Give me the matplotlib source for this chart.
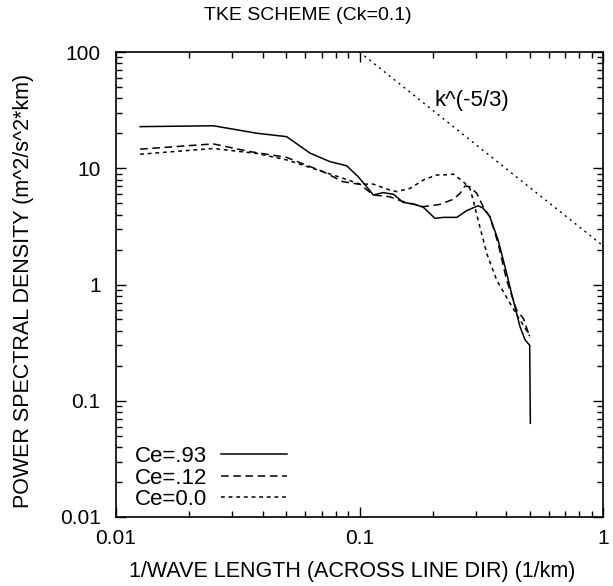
import matplotlib
matplotlib.use("Agg")
import matplotlib.pyplot as plt
from matplotlib.ticker import LogLocator, NullFormatter, FixedLocator, FixedFormatter

plt.rcParams['font.family'] = ['Liberation Sans', 'DejaVu Sans']

# Data
k_solid = [0.01256, 0.0251, 0.0379, 0.0502, 0.0626, 0.0756, 0.0886, 0.0988, 0.107, 0.114,
           0.125, 0.138, 0.151, 0.169, 0.183, 0.204, 0.221, 0.251, 0.275, 0.307, 0.322,
           0.343, 0.371, 0.402, 0.421, 0.442, 0.456, 0.479, 0.500, 0.503]
psd_solid = [22.8, 23.2, 20.0, 18.7, 13.5, 11.4, 10.5, 8.45, 6.93, 5.89,
             6.17, 5.97, 5.09, 4.89, 4.61, 3.71, 3.78, 3.78, 4.31, 4.76, 4.53,
             3.83, 2.41, 1.25, 0.84, 0.565, 0.434, 0.333, 0.30, 0.064]

k_dash = [0.01256, 0.0251, 0.0355, 0.0502, 0.0710, 0.0857, 0.1004, 0.114, 0.133, 0.151,
          0.183, 0.214, 0.243, 0.259, 0.271, 0.284, 0.303, 0.322, 0.343, 0.371, 0.402,
          0.442, 0.471, 0.501]
psd_dash = [14.6, 16.2, 13.9, 12.4, 9.33, 7.65, 7.27, 5.89, 5.69, 5.16,
            4.67, 4.89, 5.41, 6.09, 7.03, 6.93, 6.09, 4.67, 3.83, 2.26, 1.09,
            0.60, 0.51, 0.35]

k_dot = [0.01256, 0.0251, 0.0379, 0.0502, 0.0710, 0.0857, 0.1004, 0.114, 0.133, 0.142,
         0.161, 0.183, 0.207, 0.221, 0.243, 0.267, 0.284, 0.293, 0.307, 0.333, 0.366,
         0.415, 0.456, 0.48, 0.50]
psd_dot = [13.2, 14.8, 13.4, 11.8, 9.33, 8.19, 7.3, 7.3, 6.5, 6.3,
           6.7, 7.92, 8.75, 8.75, 8.9, 7.65, 6.7, 5.33, 3.59, 1.85, 1.09,
           0.69, 0.495, 0.42, 0.36]

k_ref = [0.1, 1.0]
psd_ref = [100.0, 100.0 * 0.1 ** (5.0 / 3.0)]

labels = ["Ce=.93", "Ce=.12", "Ce=0.0"]
xticks = [0.01, 0.1, 1]
xticklabels = ["0.01", "0.1", "1"]
yticks = [0.01, 0.1, 1, 10, 100]
yticklabels = ["0.01", "0.1", "1", "10", "100"]

fig = plt.figure(figsize=(6.13, 5.86), dpi=100)
W, H = 613, 586
L, R, T, B = 116, 603, 52, 517
ax = fig.add_axes([L / W, 1 - B / H, (R - L) / W, (B - T) / H])

ax.plot(k_solid, psd_solid, color='black', lw=1.1, linestyle='-', label=labels[0])
ax.plot(k_dash, psd_dash, color='black', lw=1.1, linestyle=(0, (5, 3)), label=labels[1])
ax.plot(k_dot, psd_dot, color='black', lw=1.1, linestyle=(0, (2.5, 2.5)), label=labels[2])
ax.plot(k_ref, psd_ref, color='black', lw=1.0, linestyle=(0, (1.5, 3)))

ax.set_xscale('log')
ax.set_yscale('log')
ax.set_xlim(0.01, 1)
ax.set_ylim(0.01, 100)

ax.xaxis.set_major_locator(FixedLocator(xticks))
ax.xaxis.set_major_formatter(FixedFormatter(xticklabels))
ax.yaxis.set_major_locator(FixedLocator(yticks))
ax.yaxis.set_major_formatter(FixedFormatter(yticklabels))
ax.xaxis.set_minor_locator(LogLocator(base=10, subs=range(2, 10), numticks=20))
ax.yaxis.set_minor_locator(LogLocator(base=10, subs=range(2, 10), numticks=20))
ax.xaxis.set_minor_formatter(NullFormatter())
ax.yaxis.set_minor_formatter(NullFormatter())

ax.tick_params(which='both', direction='in', top=True, right=True, labelsize=15, width=1.0)
ax.tick_params(which='major', length=7)
ax.tick_params(which='minor', length=4)
ax.tick_params(axis='x', which='major', pad=9)
ax.tick_params(axis='y', which='major', pad=11)
for s in ax.spines.values():
    s.set_linewidth(1.2)

ax.text(0.29, 38.0, "k^(-5/3)", fontsize=16, ha='center', va='center')

leg = ax.legend(loc='lower left', bbox_to_anchor=(0.03, 0.005), frameon=False,
                markerfirst=False, fontsize=16, handlelength=3.0, handletextpad=0.6,
                labelspacing=0.03, borderpad=0.2, borderaxespad=0.0)

fig.text(308 / W, 1 - 15 / H, "TKE SCHEME (Ck=0.1)", fontsize=14, ha='center', va='center')
fig.text(352 / W, 1 - 571 / H, "1/WAVE LENGTH (ACROSS LINE DIR) (1/km)",
         fontsize=15.5, ha='center', va='center')
fig.text(24 / W, 1 - ((T + B) / 2 + 6) / H, "POWER SPECTRAL DENSITY (m^2/s^2*km)",
         fontsize=15.5, ha='center', va='center', rotation=90)

fig.savefig("out.png", dpi=100)
